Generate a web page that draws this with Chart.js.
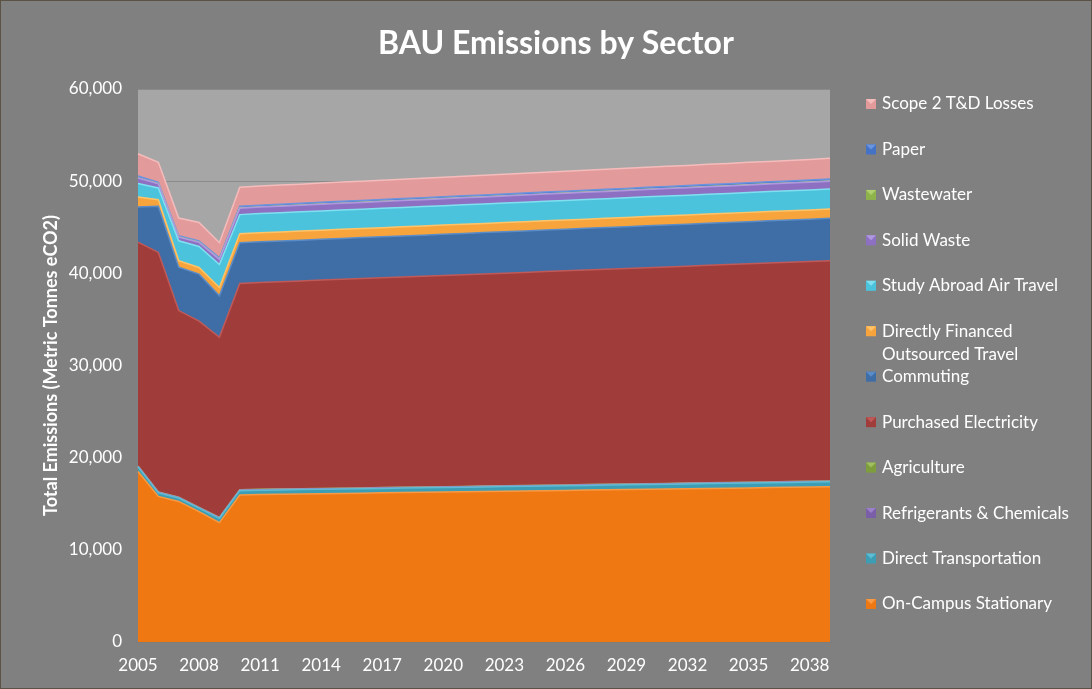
<!DOCTYPE html>
<html><head><meta charset="utf-8">
<script src="https://cdn.jsdelivr.net/npm/chart.js@4"></script>
<style>
html,body{margin:0;padding:0;background:#808080;}
#wrap{position:relative;width:1092px;height:689px;}
canvas{display:block;}
#frame{position:absolute;left:0;top:0;width:1090px;height:687px;border:1px solid #5a5242;pointer-events:none;}
</style>
</head><body><div id="wrap"><canvas id="c" width="1092" height="689"></canvas><div id="frame"></div></div>
<script>
const years = [2005,2006,2007,2008,2009,2010,2011,2012,2013,2014,2015,2016,2017,2018,2019,2020,2021,2022,2023,2024,2025,2026,2027,2028,2029,2030,2031,2032,2033,2034,2035,2036,2037,2038,2039];
const yTicks = [0,10000,20000,30000,40000,50000,60000];

const onCampus = [18500,15800,15250,14150,12950,15950,16000,16030,16060,16090,16120,16150,16180,16210,16240,16270,16300,16330,16360,16390,16420,16450,16480,16510,16540,16570,16600,16630,16660,16690,16720,16750,16780,16810,16840];
const directTrans = [500,380,370,370,470,470,470,472,475,477,480,482,485,487,490,492,495,497,500,502,505,507,510,512,515,517,520,522,525,527,530,532,535,537,540];
const refrigerants = [60,60,60,60,60,60,60,60,60,60,60,60,60,60,60,60,60,60,60,60,60,60,60,60,60,60,60,60,60,60,60,60,60,60,60];
const agriculture = [30,30,30,30,30,30,30,30,30,30,30,30,30,30,30,30,30,30,30,30,30,30,30,30,30,30,30,30,30,30,30,30,30,30,30];
const purchElec = [24300,26000,20250,20200,19550,22400,22450,22500,22550,22610,22660,22710,22760,22810,22860,22920,22970,23020,23070,23120,23180,23230,23280,23330,23380,23440,23490,23540,23590,23640,23700,23750,23800,23850,23900];
const commuting = [3800,5000,4700,5100,4500,4400,4410,4420,4425,4430,4440,4445,4450,4460,4465,4470,4480,4485,4490,4500,4505,4510,4520,4525,4530,4540,4545,4550,4560,4565,4570,4580,4585,4590,4600];
const dfot = [1100,720,720,720,900,980,980,981,982,983,984,985,986,987,988,989,990,991,992,993,994,995,996,997,998,999,1000,1001,1002,1003,1004,1005,1006,1008,1010];
const studyAbroad = [1450,1270,2150,2280,2500,2080,2085,2088,2091,2094,2097,2100,2103,2106,2109,2112,2115,2118,2121,2124,2127,2130,2133,2136,2139,2142,2145,2148,2151,2154,2157,2160,2163,2166,2170];
const solidWaste = [600,450,400,450,550,700,705,710,715,720,725,730,735,740,745,750,755,760,765,770,775,780,785,790,795,800,805,810,815,820,825,830,835,840,850];
const wastewater = [20,20,20,20,20,20,20,20,20,20,20,20,20,20,20,20,20,20,20,20,20,20,20,20,20,20,20,20,20,20,20,20,20,20,20];
const paper = [200,140,130,140,160,190,190,191,192,193,194,195,196,197,198,199,200,201,202,203,204,205,206,207,208,209,210,211,212,213,214,215,216,218,220];
const scope2 = [2420,2180,1920,2000,1630,2060,2065,2071,2077,2083,2089,2095,2101,2107,2113,2119,2125,2131,2137,2143,2149,2155,2161,2167,2173,2179,2185,2191,2197,2203,2209,2215,2221,2230,2240];

const chartTitle = 'BAU Emissions by Sector';
const yTitle = 'Total Emissions (Metric Tonnes eCO2)';
const seriesNames = ['On-Campus Stationary','Direct Transportation','Refrigerants & Chemicals','Agriculture','Purchased Electricity','Commuting',['Directly Financed','Outsourced Travel'],'Study Abroad Air Travel','Solid Waste','Wastewater','Paper','Scope 2 T&D Losses'];
const seriesData = [onCampus,directTrans,refrigerants,agriculture,purchElec,commuting,dfot,studyAbroad,solidWaste,wastewater,paper,scope2];
const fillColors = ['#f07812','#3d9db5','#7a5fa8','#7e9e3e','#a03c3a','#3f6ea6','#f7a43c','#4cc3dc','#8e70c2','#8fb34b','#4472c4','#e39a9a'];
const edgeColors = ['#f89a44','#5fbdd3','#9a80c8','#a0c060','#c05a58','#5a8cc8','#ffc46a','#80e0f0','#b098e0','#b0d070','#6a94e0','#f5bcbc'];

const datasets = seriesData.map((d,i)=>({
  label: Array.isArray(seriesNames[i]) ? seriesNames[i].join(' ') : seriesNames[i],
  data: d,
  backgroundColor: fillColors[i],
  borderColor: edgeColors[i],
  borderWidth: 1.5,
  pointRadius: 0,
  pointHoverRadius: 0,
  tension: 0,
  fill: i===0 ? 'origin' : '-1'
}));

const FONT = 'Lato, "Open Sans", sans-serif';

const plotBg = {
  id:'plotBg',
  beforeDraw(chart){
    const {ctx, chartArea:a} = chart;
    ctx.save();
    ctx.fillStyle = '#a6a6a6';
    ctx.fillRect(a.left, a.top, a.right-a.left, a.bottom-a.top);
    ctx.restore();
  }
};

const titleAndLegend = {
  id:'titleAndLegend',
  afterDraw(chart){
    const ctx = chart.ctx;
    ctx.save();
    ctx.fillStyle = '#ffffff';
    ctx.textAlign = 'center';
    ctx.textBaseline = 'middle';
    ctx.font = 'bold 32px ' + FONT;
    ctx.fillText(chartTitle, 556, 44);

    ctx.textAlign = 'left';
    ctx.font = '17px ' + FONT;
    const n = seriesNames.length;
    for (let k=0;k<n;k++){
      const i = n-1-k;
      const y = 104 + k*45.45;
      ctx.fillStyle = fillColors[i];
      ctx.fillRect(866, y-5, 10, 10);
      ctx.fillStyle = edgeColors[i];
      ctx.beginPath();
      ctx.moveTo(866,y-5); ctx.lineTo(876,y-5); ctx.lineTo(871,y); ctx.closePath(); ctx.fill();
      ctx.fillStyle = '#ffffff';
      const name = seriesNames[i];
      if (Array.isArray(name)) {
        name.forEach((t,j)=>ctx.fillText(t, 882, y + j*23));
      } else {
        ctx.fillText(name, 882, y);
      }
    }
    ctx.restore();
  }
};

new Chart(document.getElementById('c'), {
  type:'line',
  data:{ labels: years, datasets },
  options:{
    responsive:false,
    animation:false,
    devicePixelRatio:1,
    layout:{ padding:{ top:89, right:262, bottom:0, left:0 } },
    plugins:{
      legend:{ display:false },
      tooltip:{ enabled:false },
      title:{ display:false }
    },
    scales:{
      x:{
        offset:false,
        grid:{ display:false, drawTicks:false },
        border:{ display:true, color:'#7d7d7d', width:2 },
        ticks:{
          color:'#ffffff',
          font:{ family:FONT, size:17 },
          padding:13,
          autoSkip:false,
          maxRotation:0,
          callback:function(v,idx){ return idx%3===0 ? years[idx] : ''; }
        },
        afterFit:(s)=>{ s.height = 47; }
      },
      y:{
        stacked:true,
        min:0, max:60000,
        afterBuildTicks:(s)=>{ s.ticks = yTicks.map(v=>({value:v})); },
        grid:{ color:'#8a8a8a', drawTicks:false, lineWidth:1 },
        border:{ display:false },
        ticks:{
          color:'#ffffff',
          font:{ family:FONT, size:17 },
          padding:16,
          callback:(v)=>v.toLocaleString('en-US')
        },
        title:{
          display:true,
          text:yTitle,
          color:'#ffffff',
          font:{ family:FONT, size:18, weight:'bold' },
          padding:{ top:40, bottom:0 }
        },
        afterFit:(s)=>{ s.width = 138; }
      }
    }
  },
  plugins:[plotBg, titleAndLegend]
});
</script></body></html>
